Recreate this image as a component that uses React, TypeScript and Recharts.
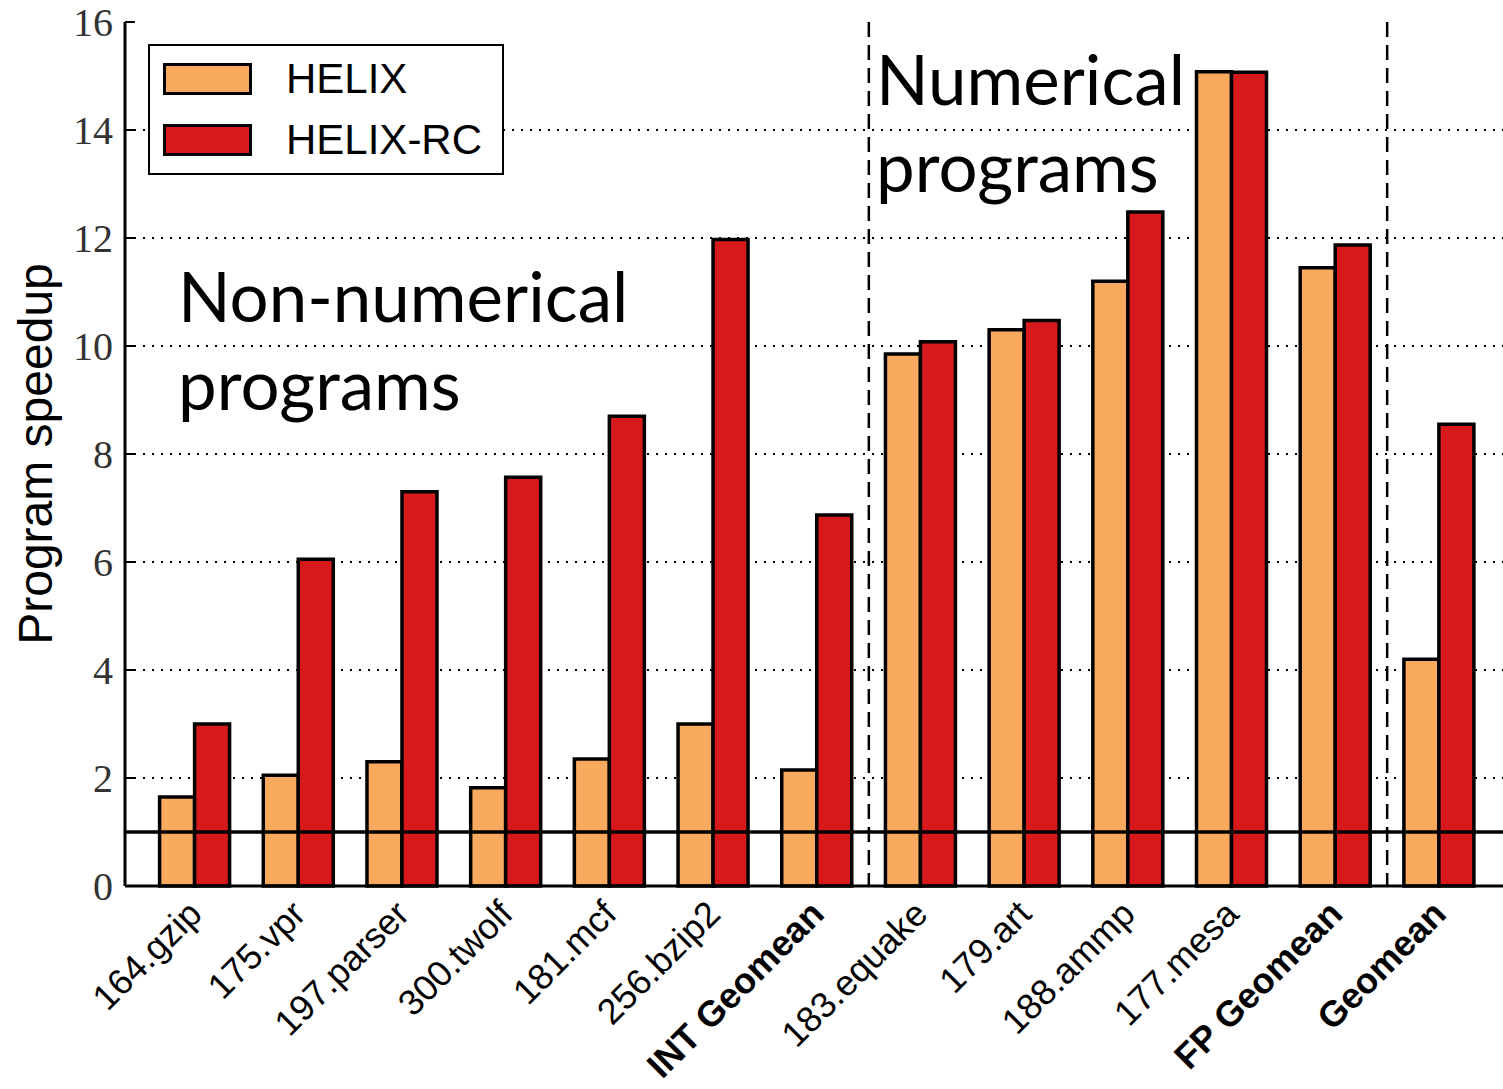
import React from 'react';
import {
  BarChart,
  Bar,
  XAxis,
  YAxis,
  CartesianGrid,
  ReferenceLine,
  Legend,
} from 'recharts';

const categories = [
  '164.gzip', '175.vpr', '197.parser', '300.twolf', '181.mcf', '256.bzip2', 'INT Geomean',
  '183.equake', '179.art', '188.ammp', '177.mesa', 'FP Geomean', 'Geomean',
];
const helix = [1.65, 2.05, 2.3, 1.82, 2.35, 3.0, 2.15, 9.85, 10.3, 11.2, 15.08, 11.45, 4.2];
const helixRc = [3.0, 6.05, 7.3, 7.57, 8.7, 11.97, 6.87, 10.08, 10.47, 12.48, 15.07, 11.87, 8.55];
const boldLabels = ['INT Geomean', 'FP Geomean', 'Geomean'];
const yTicks = [0, 2, 4, 6, 8, 10, 12, 14, 16];
// dashed separators sit halfway between category indices 6|7 and 11|12
const groupBreaks = [6.5, 11.5];

const ORANGE = '#f9aa5e';
const RED = '#d7191c';
const SANS = '"Liberation Sans", Arial, sans-serif';
const SERIF = '"Liberation Serif", "DejaVu Serif", serif';
const NOTE = 'Lato, "Open Sans", sans-serif';

const data = categories.map((name, i) => ({ name, helix: helix[i], helixRc: helixRc[i] }));

function XTick(props: any) {
  const { x, y, payload } = props;
  const bold = boldLabels.includes(payload.value);
  return (
    <text
      x={x + 9}
      y={y + 22}
      transform={`rotate(-45, ${x + 9}, ${y + 22})`}
      textAnchor="end"
      fontFamily={SANS}
      fontSize={36}
      fontWeight={bold ? 'bold' : 'normal'}
      fill="#000"
    >
      {payload.value}
    </text>
  );
}

function LeftTick(props: any) {
  const { x, y, payload } = props;
  return (
    <g>
      <line x1={x + 12} x2={x + 22} y1={y} y2={y} stroke="#000" strokeWidth={2} />
      <text x={x} y={y} dy="0.35em" textAnchor="end" fontFamily={SERIF} fontSize={40} fill="#333">
        {payload.value}
      </text>
    </g>
  );
}

function RightTick(props: any) {
  const { x, y } = props;
  return <line x1={x - 10} x2={x} y1={y} y2={y} stroke="#000" strokeWidth={2} />;
}

function LegendBox() {
  const rows = [
    { label: 'HELIX', color: ORANGE },
    { label: 'HELIX-RC', color: RED },
  ];
  return (
    <div
      style={{
        border: '2px solid #000',
        background: '#fff',
        width: 352,
        height: 125,
        boxSizing: 'content-box',
        paddingTop: 2,
      }}
    >
      {rows.map((r) => (
        <div key={r.label} style={{ display: 'flex', alignItems: 'center', height: 61 }}>
          <div
            style={{
              marginLeft: 13,
              width: 83,
              height: 26,
              background: r.color,
              border: '3.5px solid #000',
            }}
          />
          <span style={{ marginLeft: 34, fontFamily: SANS, fontSize: 42, color: '#000' }}>{r.label}</span>
        </div>
      ))}
    </div>
  );
}

function YLabel(props: any) {
  const { viewBox } = props;
  const cy = viewBox.y + viewBox.height / 2;
  return (
    <text
      x={35}
      y={cy}
      transform={`rotate(-90, 35, ${cy})`}
      textAnchor="middle"
      dominantBaseline="central"
      fontFamily={SANS}
      fontSize={48}
      fill="#000"
    >
      Program speedup
    </text>
  );
}

export default function App() {
  return (
    <div
      style={{
        position: 'absolute',
        left: 0,
        top: 0,
        width: 1503,
        height: 1089,
        overflow: 'hidden',
        background: '#fff',
      }}
    >
      <BarChart
        width={1530}
        height={1089}
        data={data}
        margin={{ top: 22, right: 0, left: 0, bottom: 0 }}
        barCategoryGap="16%"
        barGap={0}
      >
        <CartesianGrid
          vertical={false}
          stroke="#000"
          strokeWidth={2}
          strokeDasharray="2 7"
          horizontalValues={[2, 4, 6, 8, 10, 12, 14]}
        />
        <XAxis
          dataKey="name"
          interval={0}
          height={203}
          padding={{ left: 18, right: 18 }}
          tickLine={false}
          axisLine={{ stroke: '#000', strokeWidth: 3 }}
          tick={<XTick />}
        />
        {/* index axis on top: maps category index to band centre, also draws the top frame */}
        <XAxis
          xAxisId="idx"
          type="number"
          orientation="top"
          domain={[0, categories.length - 1]}
          allowDataOverflow
          height={0}
          padding={{ left: 70, right: 70 }}
          tick={false}
          tickLine={false}
          axisLine={{ stroke: '#000', strokeWidth: 3 }}
        />
        <YAxis
          width={125}
          domain={[0, 16]}
          ticks={yTicks}
          interval={0}
          tickSize={0}
          tickMargin={12}
          tickLine={false}
          axisLine={{ stroke: '#000', strokeWidth: 3 }}
          tick={<LeftTick />}
          label={<YLabel />}
        />
        <YAxis
          yAxisId="right"
          orientation="right"
          width={21}
          domain={[0, 16]}
          ticks={yTicks}
          interval={0}
          tickSize={0}
          tickMargin={0}
          tickLine={false}
          axisLine={{ stroke: '#000', strokeWidth: 3 }}
          tick={<RightTick />}
        />
        <Legend
          layout="vertical"
          align="center"
          verticalAlign="middle"
          content={() => <LegendBox />}
          wrapperStyle={{ position: 'absolute', left: 148, top: 44, width: 356, height: 129 }}
        />
        <Bar dataKey="helix" name="HELIX" fill={ORANGE} stroke="#000" strokeWidth={3.5} isAnimationActive={false} />
        <Bar dataKey="helixRc" name="HELIX-RC" fill={RED} stroke="#000" strokeWidth={3.5} isAnimationActive={false} />
        {groupBreaks.map((b) => (
          <ReferenceLine
            key={b}
            x={b}
            xAxisId="idx"
            stroke="#000"
            strokeWidth={2.5}
            strokeDasharray="15 8"
          />
        ))}
        <ReferenceLine y={1} stroke="#000" strokeWidth={3.5} />
      </BarChart>
      <svg
        width={1503}
        height={1089}
        style={{ position: 'absolute', left: 0, top: 0, pointerEvents: 'none' }}
      >
        <g fontFamily={NOTE} fontSize={69} fill="#000">
          <text x={178} y={322}>Non-numerical</text>
          <text x={178} y={410}>programs</text>
          <text x={876} y={105}>Numerical</text>
          <text x={876} y={192}>programs</text>
        </g>
      </svg>
    </div>
  );
}
